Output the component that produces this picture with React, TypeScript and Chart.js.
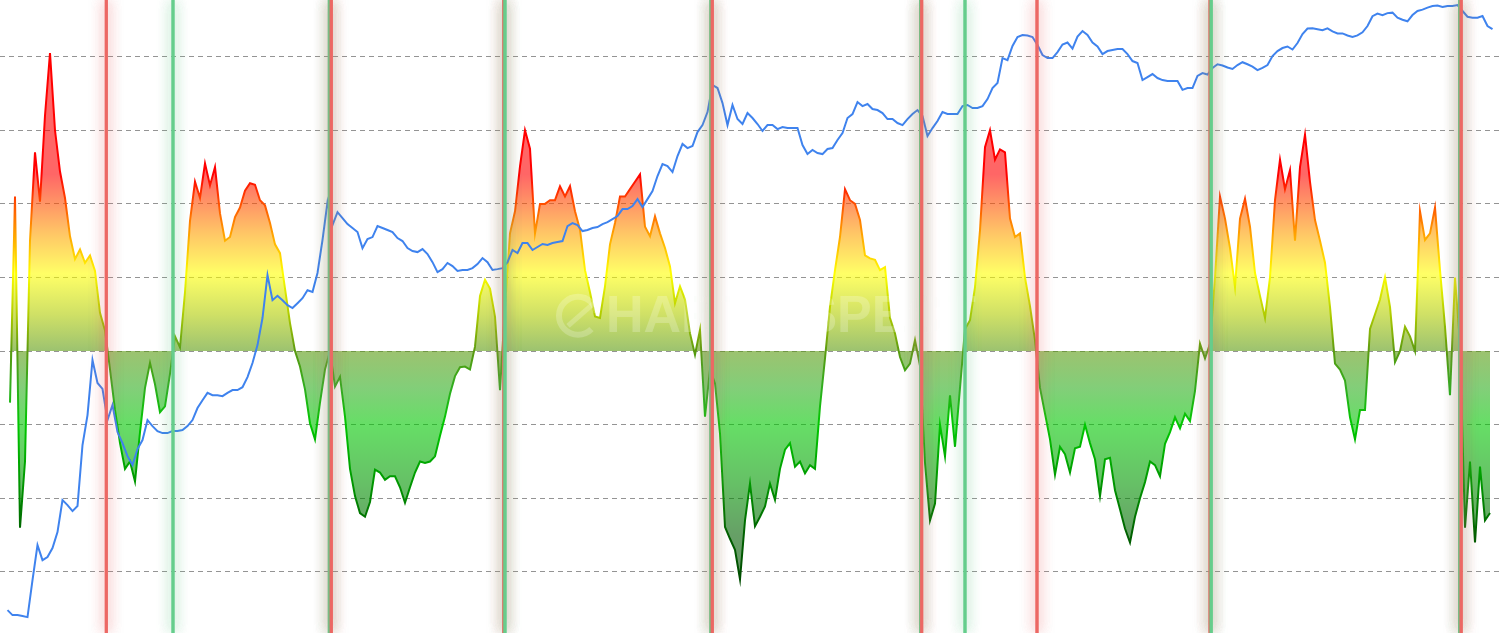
import React, { useEffect, useRef } from 'react';
import { Chart, registerables } from 'chart.js';

Chart.register(...registerables);

// Oscillator samples (evenly spaced sample index 0..296)
const oscillator: number[] = [
  -0.7, 2.1, -2.4, -1.5, 1.5, 2.7, 2.03, 3.2, 4.05, 3.0,
  2.44, 2.08, 1.56, 1.25, 1.38, 1.2, 1.3, 1.09, 0.52, 0.28,
  -0.25, -0.8, -1.25, -1.6, -1.5, -1.77, -1.1, -0.5, -0.16, -0.45,
  -0.83, -0.75, -0.31, 0.2, 0.05, 0.8, 1.77, 2.3, 2.08, 2.55,
  2.25, 2.5, 1.87, 1.5, 1.55, 1.82, 1.95, 2.18, 2.28, 2.26,
  2.05, 1.98, 1.74, 1.45, 1.33, 0.85, 0.38, 0.0, -0.21, -0.52,
  -0.98, -1.2, -0.7, -0.25, 0.0, -0.48, -0.35, -0.89, -1.6, -1.97,
  -2.2, -2.25, -2.05, -1.61, -1.65, -1.75, -1.7, -1.7, -1.85, -2.06,
  -1.85, -1.65, -1.5, -1.52, -1.5, -1.43, -1.15, -0.89, -0.58, -0.34,
  -0.22, -0.21, -0.25, 0.06, 0.75, 0.97, 0.85, 0.47, -0.53, 0.6,
  1.6, 1.9, 2.51, 3.0, 2.75, 1.6, 2.0, 2.0, 2.05, 2.05,
  2.24, 2.1, 2.24, 1.9, 1.65, 1.1, 0.8, 0.47, 0.45, 0.88,
  1.45, 1.74, 2.1, 2.1, 2.2, 2.3, 2.4, 1.69, 1.56, 1.83,
  1.6, 1.4, 1.15, 0.65, 0.88, 0.7, 0.24, -0.05, 0.29, -0.89,
  -0.25, -0.44, -1.12, -2.39, -2.55, -2.7, -3.1, -2.3, -1.8, -2.38,
  -2.25, -2.11, -1.8, -2.02, -1.6, -1.34, -1.25, -1.57, -1.5, -1.66,
  -1.55, -1.6, -0.75, -0.1, 0.6, 1.1, 1.55, 2.2, 2.05, 2.0,
  1.78, 1.3, 1.26, 1.24, 1.1, 1.14, 0.45, 0.24, -0.08, -0.26,
  -0.17, 0.15, -0.2, -1.52, -2.3, -2.07, -1.0, -1.43, -0.6, -1.3,
  -0.5, 0.3, 0.42, 0.87, 1.64, 2.77, 3.0, 2.6, 2.74, 2.7,
  1.8, 1.55, 1.6, 1.0, 0.61, 0.15, -0.5, -0.85, -1.2, -1.68,
  -1.3, -1.4, -1.65, -1.32, -1.3, -1.0, -1.25, -1.47, -1.97, -1.47,
  -1.45, -1.89, -2.15, -2.41, -2.6, -2.25, -2.0, -1.78, -1.5, -1.55,
  -1.7, -1.26, -1.1, -0.9, -1.05, -0.85, -0.95, -0.54, 0.1, -0.1,
  0.1, 1.0, 2.1, 1.8, 1.4, 0.87, 1.8, 2.07, 1.69, 1.06,
  0.75, 0.45, 1.0, 2.05, 2.6, 2.2, 2.46, 1.5, 2.5, 2.94,
  2.3, 1.78, 1.5, 1.2, 0.6, -0.17, -0.25, -0.4, -0.9, -1.2,
  -0.8, -0.8, 0.3, 0.5, 0.7, 1.0, 0.6, -0.15, 0.0, 0.33,
  0.2, 0.0, 1.9, 1.51, 1.6, 1.95, 1.1, 0.33, -0.6, 1.0,
  0.1, -2.4, -1.5, -2.6, -1.57, -2.3, -2.2,
];

// Price (USD, log axis), one value per sample step, starting half a step before the oscillator
const price: number[] = [
  0.0761, 0.0676, 0.0676, 0.0661, 0.0644, 0.155, 0.356, 0.249, 0.268, 0.332,
  0.485, 1.035, 0.92, 0.798, 0.899, 3.83, 7.8, 28.8, 16.7, 14.5,
  6.92, 9.89, 5.21, 4.01, 2.94, 2.38, 3.48, 4.31, 6.92, 6.0,
  5.33, 5.08, 5.08, 5.33, 5.33, 5.46, 6.0, 6.92, 9.2, 11.1,
  13.2, 12.5, 12.5, 12.2, 13.2, 14.1, 14.1, 15.1, 19.2, 26.8,
  41.0, 78.0, 216, 119, 132, 119, 106, 98.9, 111, 125,
  151, 145, 227, 497, 1225, 708, 964, 837, 726, 661,
  600, 410, 508, 533, 692, 661, 630, 600, 520, 485,
  410, 382, 373, 401, 356, 294, 232, 249, 288, 268,
  238, 244, 244, 255, 281, 324, 294, 244, 249, 255,
  294, 392, 365, 462, 462, 392, 421, 452, 441, 462,
  473, 485, 692, 743, 708, 615, 630, 661, 676, 726,
  760, 817, 877, 1035, 1035, 1112, 1312, 1086, 1312, 1589,
  2270, 3013, 2877, 2495, 3648, 4853, 4406, 4624, 6442, 7603,
  10350, 19680, 18320, 12820, 7603, 12240, 8770, 7800, 10120, 8995,
  7800, 6607, 7603, 7603, 6918, 7261, 7079, 7079, 7079, 4732,
  3819, 4207, 3917, 3819, 4305, 4406, 5333, 6295, 8995, 9886,
  13120, 11940, 12530, 11120, 10860, 10120, 8770, 8770, 7980, 7603,
  8770, 9886, 10860, 9419, 5861, 7079, 8375, 10350, 9886, 9886,
  9886, 11940, 12240, 11400, 11400, 11940, 14090, 18320, 20610, 37330,
  35560, 49660, 61520, 64420, 63680, 61520, 50820, 40090, 37330, 37330,
  43050, 51400, 53950, 46770, 62230, 70790, 64420, 53950, 49090, 41020,
  44060, 45190, 46240, 46240, 41020, 34750, 33190, 22130, 23770, 25530,
  23230, 22130, 21630, 21630, 21630, 17540, 18320, 18320, 24380, 26120,
  25230, 29440, 32210, 31260, 29790, 28770, 31620, 33810, 32210, 30480,
  28050, 29580, 31620, 39170, 44060, 47320, 49090, 45710, 53330, 65920,
  75160, 75510, 73790, 72110, 75510, 70310, 66990, 66990, 63830, 61520,
  63830, 68710, 79800, 100700, 107200, 103000, 108400, 109600, 97270, 92680,
  89330, 103500, 114000, 117800, 123600, 128200, 129700, 125300, 128200, 128200,
  131200, 114000, 99540, 97270, 97270, 101200, 79800, 74300,
];
const PRICE_START = -0.5;
const PRICE_STEP = 1;

// Signal lines (sample-index positions)
const sellSignals: number[] = [19.26, 64.26, 98.76, 140.46, 182.34, 205.4, 240.0, 290.24];
const buySignals: number[] = [32.6, 63.86, 99.0, 140.16, 182.1, 191.0, 240.24, 289.9];

const gridTicks: number[] = [-3, -2, -1, 0, 1, 2, 3, 4];
const OSC_MIN = -3.83;
const OSC_MAX = 4.77;
const PRICE_MIN = 0.0442;
const PRICE_MAX = 148000;
const X_MIN = -2;
const X_MAX = 298;

const colorStops: [number, [number, number, number]][] = [
  [4.8, [255, 0, 0]],
  [2.4, [255, 0, 0]],
  [2.0, [255, 80, 0]],
  [1.6, [255, 160, 0]],
  [1.05, [255, 255, 0]],
  [0.5, [176, 204, 0]],
  [0.0, [90, 154, 16]],
  [-0.5, [47, 174, 31]],
  [-1.0, [0, 200, 0]],
  [-1.8, [0, 150, 0]],
  [-2.5, [0, 96, 0]],
  [-3.8, [0, 56, 0]],
];

function makeGradient(chart: any, alpha: number) {
  const { ctx, chartArea, scales } = chart;
  if (!chartArea || !scales.y) return alpha < 1 ? 'rgba(120,180,80,0.6)' : '#5a9a10';
  const top = scales.y.getPixelForValue(OSC_MAX);
  const bottom = scales.y.getPixelForValue(OSC_MIN);
  const g = ctx.createLinearGradient(0, top, 0, bottom);
  for (const [v, c] of colorStops) {
    const off = Math.min(1, Math.max(0, (OSC_MAX - v) / (OSC_MAX - OSC_MIN)));
    g.addColorStop(off, `rgba(${c[0]},${c[1]},${c[2]},${alpha})`);
  }
  return g;
}

const overlayPlugin = {
  id: 'overlay',
  afterDatasetsDraw(chart: any) {
    const { ctx, chartArea, scales } = chart;
    const { top, bottom } = chartArea;
    // watermark
    ctx.save();
    ctx.fillStyle = 'rgba(255,255,255,0.22)';
    ctx.strokeStyle = 'rgba(255,255,255,0.22)';
    ctx.font = 'bold 52px "Liberation Sans", Arial, sans-serif';
    ctx.textBaseline = 'middle';
    const wx = scales.x.getPixelForValue(110);
    const wy = scales.y.getPixelForValue(0.48);
    ctx.lineWidth = 6;
    ctx.beginPath();
    ctx.arc(wx + 18, wy, 19, Math.PI * 0.25, Math.PI * 1.95);
    ctx.stroke();
    ctx.lineWidth = 5;
    ctx.beginPath();
    ctx.moveTo(wx + 8, wy + 10);
    ctx.lineTo(wx + 40, wy - 18);
    ctx.stroke();
    ctx.fillText('HARTINSPECT', wx + 46, wy + 2);
    ctx.restore();

    // signal lines, drawn in time order (later on top)
    const all = [
      ...sellSignals.map((v) => ({ v, color: 'rgba(236,104,100,0.95)', glow: 'rgba(230,95,95,0.55)' })),
      ...buySignals.map((v) => ({ v, color: 'rgba(102,206,140,0.95)', glow: 'rgba(80,190,120,0.5)' })),
    ].sort((a, b) => a.v - b.v);
    for (const s of all) {
      const px = scales.x.getPixelForValue(s.v);
      ctx.save();
      ctx.strokeStyle = s.color;
      ctx.lineWidth = 3;
      ctx.shadowColor = s.glow;
      ctx.shadowBlur = 14;
      ctx.beginPath();
      ctx.moveTo(px, top);
      ctx.lineTo(px, bottom);
      ctx.stroke();
      ctx.stroke();
      ctx.restore();
    }
  },
};

export default function App() {
  const ref = useRef<HTMLCanvasElement | null>(null);

  useEffect(() => {
    if (!ref.current) return;
    const chart = new Chart(ref.current, {
      type: 'line',
      data: {
        datasets: [
          {
            label: 'Price',
            data: price.map((p, j) => ({ x: PRICE_START + PRICE_STEP * j, y: p })),
            yAxisID: 'y2',
            borderColor: '#3f83ee',
            borderWidth: 2,
            pointRadius: 0,
            fill: false,
            order: 1,
          },
          {
            label: 'Oscillator',
            data: oscillator.map((v, i) => ({ x: i, y: v })),
            yAxisID: 'y',
            borderColor: (c: any) => makeGradient(c.chart, 1),
            backgroundColor: (c: any) => makeGradient(c.chart, 0.6),
            borderWidth: 2,
            pointRadius: 0,
            fill: 'origin',
            order: 2,
          },
        ],
      },
      options: {
        animation: false,
        responsive: true,
        maintainAspectRatio: false,
        layout: { padding: 0 },
        plugins: { legend: { display: false }, tooltip: { enabled: false } },
        scales: {
          x: { type: 'linear', min: X_MIN, max: X_MAX, display: false },
          y: {
            type: 'linear',
            min: OSC_MIN,
            max: OSC_MAX,
            position: 'left',
            afterBuildTicks: (s: any) => {
              s.ticks = gridTicks.map((v) => ({ value: v }));
            },
            ticks: { display: false },
            border: { display: false, dash: [5, 4] },
            grid: { color: 'rgba(0,0,0,0.42)', lineWidth: 1, drawTicks: false },
          },
          y2: { type: 'logarithmic', min: PRICE_MIN, max: PRICE_MAX, display: false },
        },
      },
      plugins: [overlayPlugin],
    });
    return () => chart.destroy();
  }, []);

  return (
    <div style={{ position: 'absolute', left: 0, top: 0, width: 1500, height: 633, background: '#fff' }}>
      <canvas ref={ref} />
    </div>
  );
}
